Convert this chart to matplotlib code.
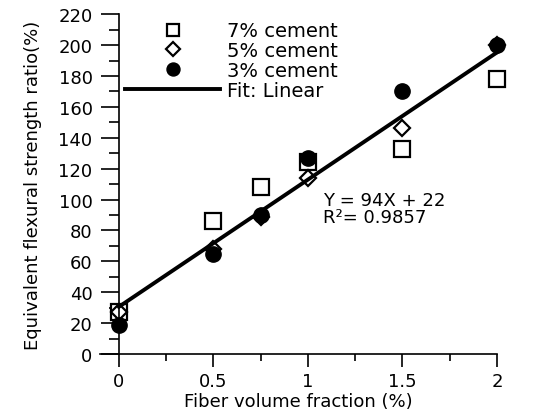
import matplotlib
matplotlib.use("Agg")
import matplotlib.pyplot as plt
import numpy as np
from matplotlib.ticker import MultipleLocator

plt.rcParams['font.family'] = ['DejaVu Sans']

fiber = [0, 0.5, 0.75, 1.0, 1.5, 2.0]
cement7 = [27, 86, 108, 124, 133, 178]
cement5 = [27, 68, 89, 114, 146, 200]
cement3 = [19, 65, 90, 127, 170, 200]
fit_text = ["Y = 94X + 22", "R\u00b2= 0.9857"]

# linear fit over all three mixes
xs = np.array(fiber * 3)
ys = np.array(cement7 + cement5 + cement3)
slope, icept = np.polyfit(xs, ys, 1)
xfit = np.array([0, 2])

fig = plt.figure(figsize=(5.42, 4.10), dpi=100)
ax = fig.add_axes([0.1845, 0.134, 0.7325, 0.829])

ax.plot(fiber, cement7, 's', ms=11, mfc='white', mec='black', mew=1.6,
        label='7% cement', clip_on=False)
ax.plot(fiber, cement5, 'D', ms=8, mfc='white', mec='black', mew=1.6,
        label='5% cement', clip_on=False)
ax.plot(fiber, cement3, 'o', ms=11, color='black', label='3% cement',
        clip_on=False)
ax.plot(xfit, slope * xfit + icept, '-', color='black', lw=2.8,
        label='Fit: Linear', clip_on=False)

ax.text(1.08, 100, fit_text[0], fontsize=13, va='center')
ax.text(1.08, 89, fit_text[1], fontsize=13, va='center')

ax.set_xlim(-0.1, 2.0)
ax.set_ylim(0, 220)
for s in ['top', 'right']:
    ax.spines[s].set_visible(False)
ax.spines['left'].set_position(('data', 0))
ax.spines['left'].set_linewidth(1.2)
ax.spines['bottom'].set_linewidth(1.2)

ax.xaxis.set_major_locator(MultipleLocator(0.5))
ax.xaxis.set_minor_locator(MultipleLocator(0.25))
ax.yaxis.set_major_locator(MultipleLocator(20))
ax.yaxis.set_minor_locator(MultipleLocator(10))
ax.set_xticks([0, 0.5, 1, 1.5, 2])
ax.set_xticklabels(['0', '0.5', '1', '1.5', '2'])
ax.tick_params(axis='y', which='major', direction='out', length=13, width=1.2,
               labelsize=13, pad=6)
ax.tick_params(axis='y', which='minor', direction='out', length=7, width=1.2)
ax.tick_params(axis='x', which='major', direction='out', length=9, width=1.2,
               labelsize=13, pad=4)
ax.tick_params(axis='x', which='minor', direction='out', length=5, width=1.2)

ax.set_xlabel('Fiber volume fraction (%)', fontsize=13, labelpad=1)
ax.set_ylabel('Equivalent flexural strength ratio(%)', fontsize=13,
              labelpad=12)

ax.legend(loc='upper left', bbox_to_anchor=(0.063, 0.979), frameon=False,
          fontsize=14, handlelength=4.9, handletextpad=0.35,
          labelspacing=0.05, borderaxespad=0, borderpad=0, markerscale=0.85)

fig.savefig('out.png', dpi=100)
